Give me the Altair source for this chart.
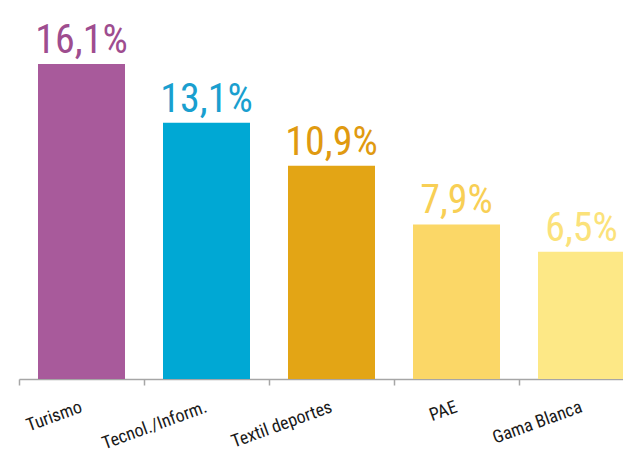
import altair as alt
import pandas as pd

categories = ["Turismo", "Tecnol./Inform.", "Textil deportes", "PAE", "Gama Blanca"]
values = [16.1, 13.1, 10.9, 7.9, 6.5]
bar_colors = ["#a85a9b", "#00a8d4", "#e3a515", "#fbd767", "#fde886"]
label_colors = ["#9e4d8f", "#1a9fcf", "#e09a10", "#f8cf55", "#fbe27a"]

df = pd.DataFrame({
    "cat": categories,
    "value": values,
    "label": [f"{v:.1f}".replace(".", ",") + "%" for v in values],
})

FONT = "Roboto Condensed, DejaVu Sans Condensed, Liberation Sans Narrow, sans-serif"

x = alt.X(
    "cat:N",
    sort=categories,
    title=None,
    scale=alt.Scale(range=[11, 636], paddingInner=0.304, paddingOuter=0.152),
    axis=alt.Axis(
        labelAngle=-20,
        labelAlign="right",
        labelBaseline="top",
        labelFont=FONT,
        labelFontSize=18,
        labelColor="#1a1a1a",
        labelPadding=13,
        labelOffset=59,
        tickOffset=-62.5,
        tickSize=6,
        tickWidth=1.5,
        tickColor="#a6a6a6",
        domainColor="#a6a6a6",
        domainWidth=1.5,
        grid=False,
        labelOverlap=False,
    ),
)
y = alt.Y("value:Q", scale=alt.Scale(domain=[0, 18.96]), axis=None)

bars = alt.Chart(df).mark_bar().encode(
    x=x,
    y=y,
    color=alt.Color("cat:N", scale=alt.Scale(domain=categories, range=bar_colors), legend=None),
)

texts = alt.Chart(df).mark_text(
    font=FONT, fontSize=40, dy=-11, baseline="alphabetic", align="center"
).encode(
    x=x,
    y=y,
    text="label:N",
    color=alt.Color("cat:N", scale=alt.Scale(domain=categories, range=label_colors), legend=None),
)

chart = alt.layer(bars, texts).resolve_scale(color="independent").properties(
    width=615,
    height=371,
    autosize=alt.AutoSizeParams(type="none"),
    padding={"left": 0, "top": 0, "right": 0, "bottom": 77},
).configure_view(stroke=None)

chart.save("out.html", embed_options={"renderer": "svg", "actions": False})
